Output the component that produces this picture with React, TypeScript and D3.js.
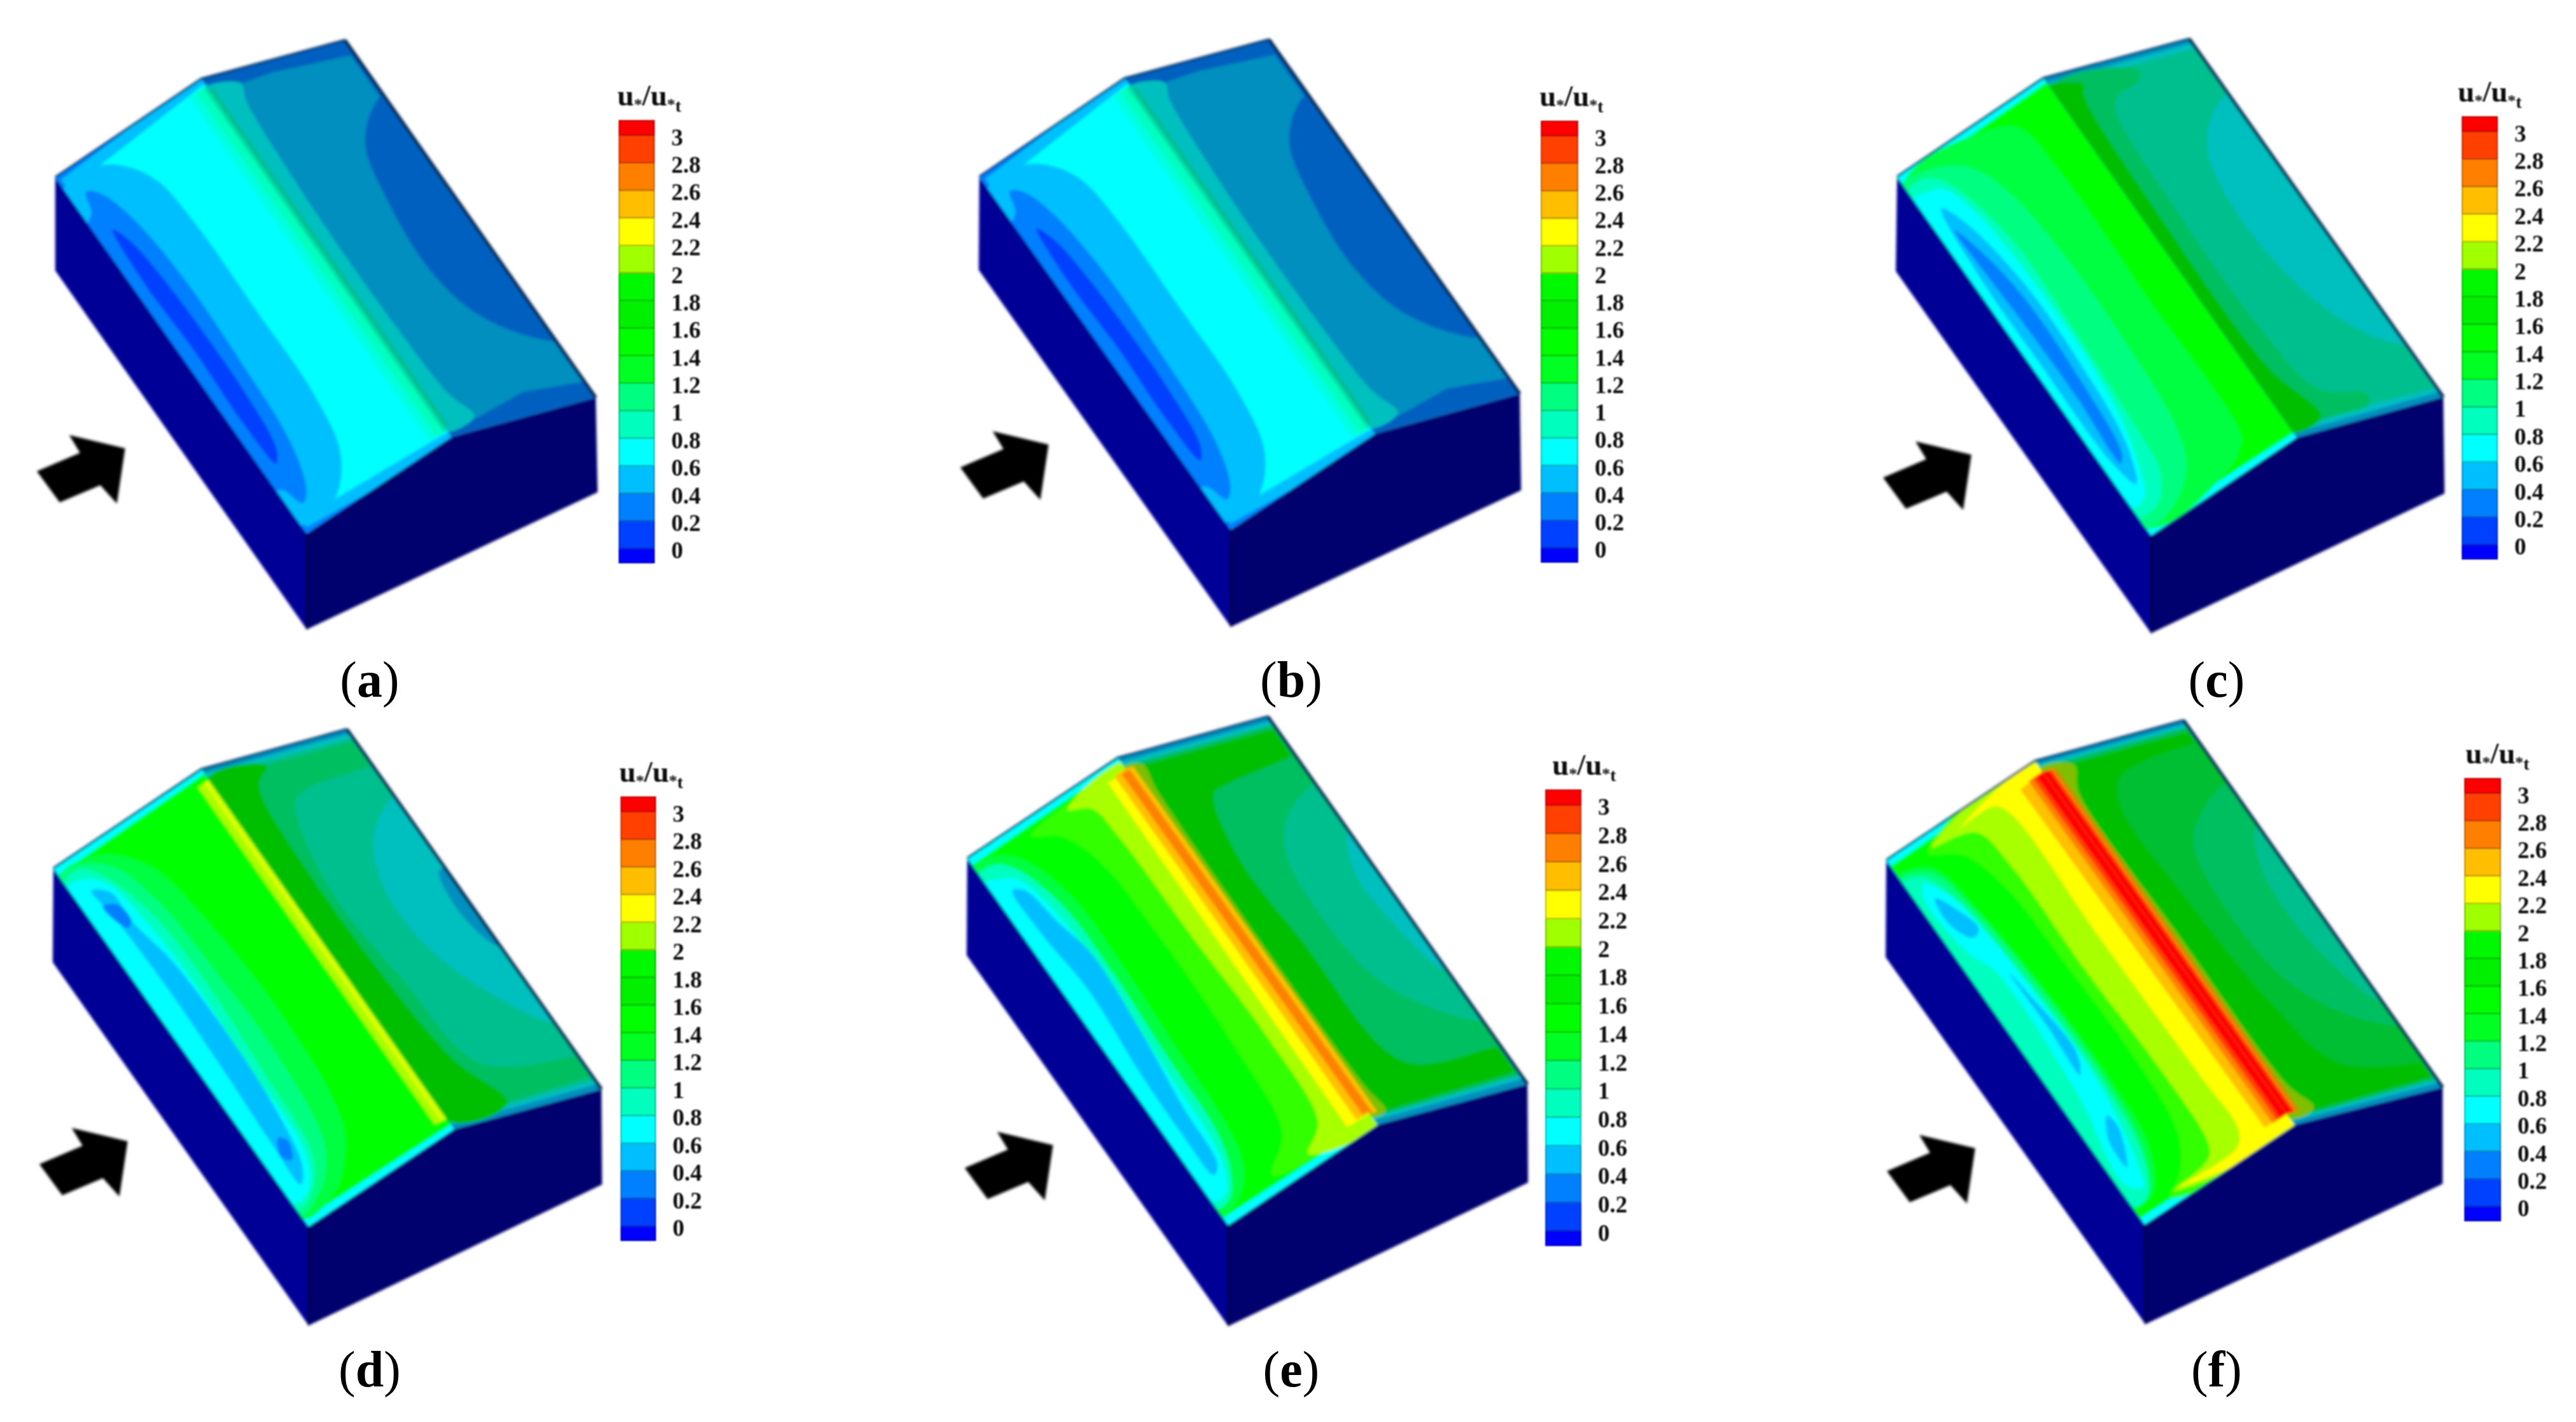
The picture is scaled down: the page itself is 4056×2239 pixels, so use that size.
import React from "react";
import * as d3 from "d3";

type Pt = [number, number];
type Layer = { b: number; p: Pt[]; line?: boolean; lit?: boolean; tone?: number; o?: number };

// legend: band colours from lowest (< 0) to highest (> 3)
const bandColors = ["#0000ff", "#0040ff", "#0080ff", "#00bfff", "#00ffff", "#00ffbf", "#00ff80", "#00ff40", "#00ff00", "#10ff00", "#30ff00", "#a8ff00", "#ffff00", "#ffc000", "#ff8000", "#ff4000", "#ff0000"];
const legendColors = ["#0000ff", "#0040ff", "#0080ff", "#00bfff", "#00ffff", "#00ffbf", "#00ff80", "#00ff20", "#00ff00", "#00f000", "#00f800", "#a0ff00", "#ffff00", "#ffbf00", "#ff8000", "#ff4000", "#ff0000"];
const legendLevels = [0, 0.2, 0.4, 0.6, 0.8, 1, 1.2, 1.4, 1.6, 1.8, 2, 2.2, 2.4, 2.6, 2.8, 3];
const legendBreaks = [-0.105, ...legendLevels, 3.105];
const legendLabels = ["0", "0.2", "0.4", "0.6", "0.8", "1", "1.2", "1.4", "1.6", "1.8", "2", "2.2", "2.4", "2.6", "2.8", "3"];
const captions = ["a", "b", "c", "d", "e", "f"];

const FULL: Pt[] = [[-0.1, -0.1], [1.1, -0.1], [1.1, 1.1], [-0.1, 1.1]];

// contour regions on the windward roof face: [u across eave→ridge, v along back→front]
const windAB: Layer[] = [
  { b: 2, p: FULL, line: true },
  { b: 3, p: [[0.02, 0.012], [1.1, -0.01], [1.1, 1.02], [0.02, 0.988]], line: true },
  { b: 4, p: [[0, 0.035], [0.25, 0.035], [0.95, 0.015], [1.1, 0.015], [1.1, 0.99], [0.96, 0.985], [0.25, 0.97], [0, 0.97]], line: true },
  { b: 5, o: 0.45, p: [[0.88, 0.02], [1.1, 0.02], [1.1, 0.985], [0.88, 0.98]], line: true },
  { b: 5, p: [[0.93, 0.02], [1.1, 0.02], [1.1, 0.985], [0.93, 0.98]], line: true },
  { b: 5, tone: 0.88, p: [[0.98, 0.02], [1.1, 0.02], [1.1, 0.985], [0.98, 0.98]], line: true },
  { b: 3, p: [[-0.02, 0.04], [0.24, 0.035], [0.37, 0.073], [0.465, 0.14], [0.5, 0.271], [0.5, 0.514], [0.494, 0.744], [0.418, 0.895], [0.229, 0.973], [-0.02, 0.97]] },
  { b: 2, p: [[0.094, 0.067], [0.159, 0.09], [0.224, 0.174], [0.265, 0.347], [0.259, 0.577], [0.224, 0.81], [0.141, 0.918], [0.082, 0.937], [0.035, 0.889], [-0.02, 0.87], [-0.02, 0.14], [0.05, 0.115]] },
  { b: 1, p: [[0.094, 0.173], [0.141, 0.221], [0.171, 0.341], [0.182, 0.546], [0.176, 0.655], [0.141, 0.797], [0.088, 0.828], [0.065, 0.705], [0.076, 0.516], [0.065, 0.311]] },
];

const windC: Layer[] = [
  { b: 4, p: FULL, line: true },
  { b: 8, p: [[-0.1, 0.02], [1.1, 0.012], [1.1, 0.988], [-0.1, 0.98]], line: true },
  { b: 7, p: [[-0.02, 0.03], [0.629, 0.036], [0.732, 0.067], [0.774, 0.208], [0.765, 0.543], [0.75, 0.926], [0.694, 0.951], [0.592, 0.972], [-0.02, 0.975]] },
  { b: 6, p: [[-0.02, 0.03], [0.215, 0.034], [0.373, 0.078], [0.468, 0.173], [0.517, 0.356], [0.518, 0.594], [0.473, 0.83], [0.389, 0.916], [0.198, 0.973], [-0.02, 0.975]] },
  { b: 5, p: [[-0.02, 0.05], [0.103, 0.038], [0.191, 0.063], [0.268, 0.138], [0.328, 0.284], [0.318, 0.5], [0.29, 0.74], [0.253, 0.889], [0.16, 0.943], [0.045, 0.956], [-0.02, 0.95]] },
  { b: 4, p: [[-0.02, 0.07], [0.11, 0.07], [0.18, 0.085], [0.24, 0.154], [0.28, 0.3], [0.29, 0.533], [0.25, 0.73], [0.16, 0.867], [0.09, 0.921], [-0.02, 0.92]] },
  { b: 3, p: [[0.1, 0.116], [0.17, 0.18], [0.24, 0.37], [0.235, 0.6], [0.19, 0.79], [0.1, 0.884], [0.056, 0.815], [0.048, 0.535], [0.052, 0.307]] },
  { b: 2, p: [[0.089, 0.174], [0.14, 0.242], [0.19, 0.38], [0.185, 0.6], [0.135, 0.807], [0.095, 0.826], [0.108, 0.65], [0.106, 0.471], [0.093, 0.299]] },
];

const windD: Layer[] = [
  { b: 4, p: FULL, line: true },
  { b: 8, p: [[-0.1, 0.02], [1.1, 0.012], [1.1, 0.988], [-0.1, 0.98]], line: true },
  { b: 11, p: [[0.925, 0.03], [1.1, 0.03], [1.1, 0.972], [0.925, 0.968]], line: true },
  { b: 12, o: 0.6, p: [[0.965, 0.03], [0.99, 0.03], [0.99, 0.972], [0.965, 0.968]], line: true },
  { b: 7, p: [[-0.02, 0.03], [0.261, 0.035], [0.456, 0.124], [0.526, 0.262], [0.573, 0.563], [0.504, 0.843], [0.373, 0.926], [0.236, 0.968], [-0.02, 0.975]] },
  { b: 6, p: [[-0.02, 0.03], [0.113, 0.024], [0.282, 0.076], [0.375, 0.2], [0.41, 0.419], [0.422, 0.621], [0.358, 0.852], [0.251, 0.922], [0.146, 0.953], [-0.02, 0.97]] },
  { b: 5, p: [[-0.02, 0.05], [0.119, 0.036], [0.212, 0.086], [0.305, 0.211], [0.329, 0.407], [0.3, 0.647], [0.259, 0.865], [0.175, 0.921], [0.05, 0.956], [-0.02, 0.95]] },
  { b: 4, p: [[-0.02, 0.06], [0.084, 0.056], [0.195, 0.096], [0.253, 0.227], [0.271, 0.41], [0.248, 0.633], [0.242, 0.83], [0.169, 0.909], [0.079, 0.939], [-0.02, 0.93]] },
  { b: 3, p: [[0.101, 0.091], [0.183, 0.118], [0.189, 0.204], [0.241, 0.323], [0.259, 0.507], [0.236, 0.729], [0.169, 0.88], [0.102, 0.911], [0.102, 0.792], [0.119, 0.617], [0.131, 0.372], [0.119, 0.17]] },
  { b: 2, p: [[0.101, 0.135], [0.177, 0.151], [0.186, 0.198], [0.145, 0.207]] },
  { b: 2, p: [[0.149, 0.794], [0.187, 0.81], [0.145, 0.853], [0.102, 0.836]] },
];

const windE: Layer[] = [
  { b: 4, p: FULL, line: true },
  { b: 8, p: [[-0.1, 0.02], [1.1, 0.012], [1.1, 0.988], [-0.1, 0.98]], line: true },
  { b: 10, p: [[0.359, 0.038], [0.494, 0.077], [0.586, 0.17], [0.614, 0.372], [0.603, 0.67], [0.541, 0.896], [0.361, 0.963], [0.95, 0.985], [1.1, 0.985], [1.1, 0.02], [0.95, 0.02]] },
  { b: 11, p: [[0.606, 0.035], [0.72, 0.063], [0.751, 0.147], [0.763, 0.432], [0.781, 0.699], [0.738, 0.921], [0.592, 0.968], [1.1, 0.985], [1.1, 0.03]] },
  { b: 12, p: [[0.875, 0.035], [1.1, 0.035], [1.1, 0.97], [0.855, 0.967]], line: true },
  { b: 13, p: [[0.925, 0.03], [1.1, 0.03], [1.1, 0.97], [0.92, 0.965]], line: true },
  { b: 14, p: [[0.965, 0.035], [1.1, 0.035], [1.1, 0.972], [0.965, 0.962]], line: true },
  { b: 7, p: [[-0.02, 0.03], [0.14, 0.033], [0.248, 0.073], [0.346, 0.192], [0.357, 0.389], [0.335, 0.606], [0.312, 0.823], [0.255, 0.914], [0.132, 0.963], [-0.02, 0.97]] },
  { b: 5, p: [[-0.02, 0.05], [0.094, 0.045], [0.185, 0.08], [0.277, 0.202], [0.289, 0.399], [0.266, 0.617], [0.249, 0.816], [0.183, 0.905], [0.083, 0.955], [-0.02, 0.95]] },
  { b: 4, p: [[-0.02, 0.07], [0.074, 0.078], [0.16, 0.102], [0.231, 0.228], [0.237, 0.414], [0.215, 0.632], [0.203, 0.813], [0.158, 0.898], [0.083, 0.94], [-0.02, 0.93]] },
  { b: 3, p: [[0.1, 0.115], [0.157, 0.132], [0.203, 0.23], [0.254, 0.332], [0.226, 0.538], [0.175, 0.727], [0.146, 0.875], [0.095, 0.89], [0.083, 0.78], [0.089, 0.617], [0.123, 0.393], [0.091, 0.229]] },
];

const windF: Layer[] = [
  { b: 4, p: FULL, line: true },
  { b: 8, p: [[-0.1, 0.018], [1.1, 0.01], [1.1, 0.99], [-0.1, 0.982]], line: true },
  { b: 10, p: [[0.211, 0.038], [0.367, 0.088], [0.455, 0.2], [0.48, 0.427], [0.49, 0.673], [0.442, 0.871], [0.324, 0.947], [0.2, 0.981], [1.1, 0.985], [1.1, 0.015]] },
  { b: 11, p: [[0.244, 0.033], [0.5, 0.061], [0.55, 0.167], [0.55, 0.457], [0.57, 0.738], [0.55, 0.925], [0.5, 0.956], [0.24, 0.973], [1.1, 0.985], [1.1, 0.02]] },
  { b: 12, p: [[0.438, 0.033], [0.67, 0.035], [0.72, 0.074], [0.72, 0.414], [0.73, 0.785], [0.73, 0.939], [0.665, 0.971], [0.269, 0.971], [1.1, 0.985], [1.1, 0.025]] },
  { b: 13, p: [[0.84, 0.035], [1.1, 0.03], [1.1, 0.97], [0.855, 0.968]], line: true },
  { b: 14, p: [[0.905, 0.03], [1.1, 0.03], [1.1, 0.97], [0.905, 0.97]], line: true },
  { b: 15, p: [[0.935, 0.03], [1.1, 0.03], [1.1, 0.97], [0.935, 0.97]], line: true },
  { b: 16, p: [[0.958, 0.03], [1.1, 0.03], [1.1, 0.97], [0.958, 0.97]], line: true },
  { b: 7, p: [[-0.02, 0.05], [0.109, 0.052], [0.199, 0.082], [0.26, 0.22], [0.3, 0.42], [0.31, 0.68], [0.27, 0.86], [0.133, 0.953], [-0.02, 0.95]] },
  { b: 6, p: [[-0.02, 0.055], [0.09, 0.06], [0.18, 0.09], [0.24, 0.2], [0.285, 0.42], [0.29, 0.68], [0.235, 0.86], [0.11, 0.95], [-0.02, 0.95]] },
  { b: 5, p: [[-0.02, 0.07], [0.106, 0.076], [0.194, 0.158], [0.25, 0.374], [0.27, 0.645], [0.215, 0.864], [0.095, 0.953], [-0.02, 0.945]] },
  { b: 4, p: [[0.092, 0.092], [0.171, 0.142], [0.224, 0.274], [0.25, 0.473], [0.25, 0.667], [0.17, 0.865], [0.112, 0.928], [0.037, 0.898], [0.116, 0.675], [0.137, 0.338], [0.079, 0.284], [0.043, 0.127]] },
  { b: 3, p: [[0.098, 0.132], [0.159, 0.178], [0.2, 0.243], [0.145, 0.253], [0.078, 0.195]] },
  { b: 3, p: [[0.195, 0.364], [0.219, 0.439], [0.246, 0.593], [0.188, 0.641], [0.196, 0.511]] },
  { b: 3, p: [[0.178, 0.75], [0.195, 0.784], [0.103, 0.872], [0.106, 0.799]] },
];

// contour regions on the leeward roof face: [w across ridge→eave, v along back→front]
const leeAB: Layer[] = [
  { b: 2, p: FULL, line: true },
  { b: 3, p: [[-0.1, 0.045], [0.45, 0.03], [0.97, 0.04], [0.985, 0.955], [0.6, 0.94], [0.22, 0.972], [-0.1, 0.975]], line: true },
  { b: 4, p: [[-0.1, 0.035], [0.212, 0.035], [0.172, 0.08], [0.13, 0.3], [0.119, 0.46], [0.125, 0.7], [0.157, 0.895], [0.217, 0.966], [-0.1, 0.975]] },
  { b: 5, p: [[-0.1, 0.03], [0.03, 0.03], [0.03, 0.97], [-0.1, 0.97]], line: true },
  { b: 2, p: [[0.954, 0.16], [0.804, 0.204], [0.675, 0.27], [0.6, 0.382], [0.551, 0.577], [0.62, 0.705], [0.755, 0.779], [0.97, 0.838], [1.02, 0.84], [1.02, 0.15]] },
];

const leeC: Layer[] = [
  { b: 3, p: FULL, line: true },
  { b: 4, p: [[-0.1, 0.014], [0.99, 0.012], [0.99, 0.985], [-0.1, 0.988]], line: true },
  { b: 5, p: [[-0.1, 0.03], [0.3, 0.026], [0.985, 0.026], [0.985, 0.975], [0.55, 0.97], [0.2, 0.978], [-0.1, 0.98]], line: true },
  { b: 6, p: [[0, 0.03], [0.583, 0.041], [0.54, 0.066], [0.355, 0.091], [0.286, 0.123], [0.231, 0.394], [0.235, 0.722], [0.318, 0.899], [0.58, 0.943], [0.547, 0.969], [0.217, 0.972], [0, 0.975]] },
  { b: 8, p: [[-0.1, 0.03], [0.209, 0.04], [0.166, 0.065], [0.108, 0.42], [0.12, 0.818], [0.224, 0.968], [-0.1, 0.975]] },
  { b: 4, p: [[0.948, 0.161], [0.763, 0.215], [0.633, 0.29], [0.566, 0.471], [0.641, 0.667], [0.781, 0.782], [0.956, 0.846], [1.02, 0.85], [1.02, 0.155]] },
];

const leeD: Layer[] = [
  { b: 3, p: FULL, line: true },
  { b: 4, p: [[-0.1, 0.012], [0.99, 0.012], [0.99, 0.985], [-0.1, 0.988]], line: true },
  { b: 5, p: [[-0.1, 0.022], [0.985, 0.022], [0.985, 0.975], [-0.1, 0.98]], line: true },
  { b: 6, p: [[-0.1, 0.032], [0.985, 0.032], [0.985, 0.965], [-0.1, 0.975]], line: true },
  { b: 5, p: [[0.954, 0.102], [0.51, 0.116], [0.404, 0.139], [0.259, 0.351], [0.309, 0.624], [0.416, 0.863], [0.97, 0.906], [1.02, 0.906], [1.02, 0.1]] },
  { b: 4, p: [[0.949, 0.195], [0.71, 0.272], [0.581, 0.377], [0.569, 0.534], [0.711, 0.679], [0.976, 0.812], [1.02, 0.815], [1.02, 0.19]] },
  { b: 3, p: [[0.953, 0.389], [0.904, 0.492], [0.979, 0.6], [1.02, 0.6], [1.02, 0.39]] },
  { b: 8, p: [[-0.02, 0.03], [0.391, 0.034], [0.268, 0.075], [0.2, 0.295], [0.269, 0.827], [0.41, 0.972], [-0.02, 0.975]] },
];

const leeE: Layer[] = [
  { b: 3, p: FULL, line: true },
  { b: 4, p: [[-0.1, 0.012], [0.99, 0.012], [0.99, 0.985], [-0.1, 0.988]], line: true },
  { b: 6, p: [[-0.1, 0.022], [0.985, 0.022], [0.985, 0.975], [-0.1, 0.98]], line: true },
  { b: 8, p: [[-0.1, 0.032], [0.985, 0.032], [0.985, 0.965], [-0.1, 0.975]], line: true },
  { b: 6, p: [[0.94, 0.108], [0.494, 0.13], [0.394, 0.143], [0.282, 0.296], [0.305, 0.531], [0.4, 0.872], [0.946, 0.895], [1.02, 0.9], [1.02, 0.1]] },
  { b: 5, p: [[0.937, 0.19], [0.7, 0.246], [0.559, 0.327], [0.511, 0.487], [0.569, 0.658], [0.732, 0.754], [0.967, 0.824], [1.02, 0.83], [1.02, 0.185]] },
  { b: 4, p: [[0.984, 0.317], [0.871, 0.411], [0.887, 0.548], [0.98, 0.685], [1.02, 0.685], [1.02, 0.317]] },
  { b: 11, p: [[-0.02, 0.03], [0.11, 0.03], [0.09, 0.1], [0.07, 0.5], [0.08, 0.9], [0.1, 0.973], [-0.02, 0.975]] },
  { b: 13, p: [[-0.1, 0.03], [0.05, 0.03], [0.05, 0.97], [-0.1, 0.97]], line: true, lit: true },
  { b: 14, p: [[-0.1, 0.035], [0.02, 0.035], [0.02, 0.97], [-0.1, 0.97]], line: true, lit: true },
];

const leeF: Layer[] = [
  { b: 3, p: FULL, line: true },
  { b: 4, p: [[-0.1, 0.01], [0.99, 0.01], [0.99, 0.987], [-0.1, 0.99]], line: true },
  { b: 6, p: [[-0.1, 0.018], [0.985, 0.018], [0.985, 0.978], [-0.1, 0.985]], line: true },
  { b: 8, p: [[-0.1, 0.028], [0.985, 0.028], [0.985, 0.97], [-0.1, 0.98]], line: true },
  { b: 7, p: [[0.95, 0.06], [0.42, 0.09], [0.3, 0.16], [0.3, 0.4], [0.36, 0.7], [0.5, 0.88], [0.97, 0.93], [1.02, 0.93], [1.02, 0.06]] },
  { b: 6, p: [[0.931, 0.178], [0.657, 0.246], [0.546, 0.302], [0.484, 0.462], [0.526, 0.642], [0.706, 0.76], [0.972, 0.829], [1.02, 0.83], [1.02, 0.175]] },
  { b: 5, p: [[0.977, 0.291], [0.851, 0.385], [0.822, 0.548], [0.9, 0.693], [0.98, 0.76], [1.02, 0.76], [1.02, 0.29]] },
  { b: 11, p: [[-0.02, 0.025], [0.205, 0.034], [0.12, 0.1], [0.11, 0.5], [0.12, 0.9], [0.18, 0.971], [-0.02, 0.98]] },
  { b: 13, p: [[-0.1, 0.03], [0.09, 0.03], [0.09, 0.97], [-0.1, 0.97]], line: true },
  { b: 14, p: [[-0.1, 0.03], [0.07, 0.03], [0.07, 0.97], [-0.1, 0.97]], line: true, lit: true },
  { b: 15, p: [[-0.1, 0.03], [0.055, 0.03], [0.055, 0.97], [-0.1, 0.97]], line: true, lit: true },
  { b: 16, p: [[-0.1, 0.03], [0.04, 0.03], [0.04, 0.97], [-0.1, 0.97]], line: true, lit: true },
];

// page placement of each panel (building corners, arrow tip, legend box, title shift, caption)
const layout = [
  { wind: windAB, lee: leeAB, A: [87, 279], R: [317, 124], B: [543, 63], C: [938, 626], Rf: [711, 688], F: [483, 840], Fb: [483, 991], Ab: [87, 426], Cb: [941, 775], tip: [197, 706], lg: [975, 1030, 190, 886], tx: 0, cap: [582, 1097] },
  { wind: windAB, lee: leeAB, A: [1542, 278], R: [1771, 123], B: [1998, 62], C: [2393, 620], Rf: [2165, 683], F: [1938, 834], Fb: [1938, 987], Ab: [1541, 425], Cb: [2395, 772], tip: [1651, 700], lg: [2427, 2484, 191, 885], tx: 0, cap: [2033, 1097] },
  { wind: windC, lee: leeC, A: [2987, 278], R: [3217, 123], B: [3447, 61], C: [3847, 625], Rf: [3616, 689], F: [3387, 843], Fb: [3387, 997], Ab: [2985, 427], Cb: [3849, 777], tip: [3104, 716], lg: [3877, 3932, 184, 880], tx: -4, cap: [3490, 1097] },
  { wind: windD, lee: leeD, A: [84, 1367], R: [317, 1211], B: [546, 1148], C: [947, 1715], Rf: [715, 1778], F: [486, 1931], Fb: [486, 2087], Ab: [83, 1515], Cb: [948, 1865], tip: [201, 1797], lg: [978, 1032, 1255, 1953], tx: 0, cap: [582, 2183] },
  { wind: windE, lee: leeE, A: [1523, 1351], R: [1760, 1193], B: [1996, 1128], C: [2405, 1707], Rf: [2169, 1771], F: [1934, 1929], Fb: [1934, 2088], Ab: [1522, 1504], Cb: [2406, 1862], tip: [1658, 1803], lg: [2434, 2489, 1244, 1961], tx: 13, cap: [2033, 2183] },
  { wind: windF, lee: leeF, A: [2970, 1354], R: [3204, 1198], B: [3438, 1134], C: [3846, 1712], Rf: [3613, 1771], F: [3377, 1928], Fb: [3378, 2085], Ab: [2969, 1507], Cb: [3846, 1864], tip: [3110, 1808], lg: [3881, 3937, 1226, 1922], tx: 4, cap: [3490, 2183] },
];

const arrowShape: Pt[] = [[-139, 36], [-71, 7], [-88, -21], [0, 0], [-13, 87], [-39, 58], [-103, 85]];

const SHADE = 0.75;
const blobCurve = d3.line<Pt>().curve(d3.curveCatmullRomClosed.alpha(0.5));
const straight = d3.line<Pt>().curve(d3.curveLinearClosed);

function mapper(a: number[], b: number[], c: number[], d: number[]) {
  // a→b is the u edge at v = 0, c→d the u edge at v = 1
  const top = d3.interpolate(a, b);
  const bot = d3.interpolate(c, d);
  return (u: number, v: number): Pt => {
    const p = top(u), q = bot(u);
    return [p[0] + (q[0] - p[0]) * v, p[1] + (q[1] - p[1]) * v];
  };
}

function tone(color: string, k: number) {
  const c = d3.rgb(color);
  return d3.rgb(c.r * k, c.g * k, c.b * k).formatHex();
}

function Face({ id, corners, map, layers, shade }: { id: string; corners: number[][]; map: (u: number, v: number) => Pt; layers: Layer[]; shade: number }) {
  return (
    <g clipPath={`url(#${id})`}>
      <defs>
        <clipPath id={id}>
          <polygon points={corners.map((c) => c.join(",")).join(" ")} />
        </clipPath>
      </defs>
      {layers.map((l, i) => {
        const pts = l.p.map(([u, v]) => map(u, v));
        const k = (l.lit ? 1 : shade) * (l.tone ?? 1);
        return <path key={i} d={(l.line ? straight : blobCurve)(pts) ?? ""} fill={tone(bandColors[l.b], k)} fillOpacity={l.o ?? 1} />;
      })}
    </g>
  );
}

function Panel({ cfg, index }: { cfg: (typeof layout)[number]; index: number }) {
  const { A, R, B, C, Rf, F, Fb, Ab, Cb } = cfg;
  const windMap = mapper(A, R, F, Rf);
  const leeMap = mapper(R, B, Rf, C);
  const [lx0, lx1, ly0, ly1] = cfg.lg;
  const yScale = d3.scaleLinear().domain([legendBreaks[0], legendBreaks[legendBreaks.length - 1]]).range([ly1, ly0]);
  const poly = (pts: number[][]) => pts.map((c) => c.join(",")).join(" ");
  const titleX = lx0 - 3 + cfg.tx;
  const titleY = ly0 - 24;
  return (
    <g>
      <g filter="url(#soft)">
        <polygon points={poly([A, F, Fb, Ab])} fill="#000096" />
        <polygon points={poly([F, Rf, C, Cb, Fb])} fill="#00006e" />
        <Face id={`wind${index}`} corners={[A, R, Rf, F]} map={windMap} layers={cfg.wind} shade={1} />
        <Face id={`lee${index}`} corners={[R, B, C, Rf]} map={leeMap} layers={cfg.lee} shade={SHADE} />
        <line x1={F[0]} y1={F[1]} x2={Fb[0]} y2={Fb[1]} stroke="#000020" strokeWidth={2.5} />
        <polyline points={poly([A, R, B])} fill="none" stroke="#002a60" strokeWidth={3} />
        <line x1={B[0]} y1={B[1]} x2={C[0]} y2={C[1]} stroke="#00204a" strokeWidth={5} />
        <polygon points={poly(arrowShape.map(([x, y]) => [cfg.tip[0] + x, cfg.tip[1] + y]))} fill="#000" />
      </g>
      <g filter="url(#softer)">
        {legendColors.map((c, i) => (
          <rect key={i} x={lx0} width={lx1 - lx0} y={yScale(legendBreaks[i + 1])} height={yScale(legendBreaks[i]) - yScale(legendBreaks[i + 1])} fill={c} stroke={tone(c, 0.72)} strokeWidth={2} />
        ))}
        <text x={titleX} y={titleY} fontFamily="'Liberation Serif', serif" fontWeight="bold" fill="#111" fontSize={47}>
          u<tspan fontSize={26} dy={7}>*</tspan><tspan dy={-7}>/u</tspan><tspan fontSize={26} dy={7}>*</tspan><tspan fontSize={28} dy={3}>t</tspan>
        </text>
        {legendLevels.map((v, i) => (
          <text key={i} x={lx1 + 27} y={yScale(v) + 16} fontFamily="'Liberation Serif', serif" fontWeight="bold" fontSize={37} fill="#111">{legendLabels[i]}</text>
        ))}
      </g>
      <text x={cfg.cap[0]} y={cfg.cap[1]} textAnchor="middle" fontFamily="'Liberation Serif', serif" fontSize={80} fill="#000">
        (<tspan fontWeight="bold">{captions[index]}</tspan>)
      </text>
    </g>
  );
}

export default function App() {
  return (
    <svg width={4056} height={2239} viewBox="0 0 4056 2239" style={{ position: "absolute", left: 0, top: 0, display: "block", background: "#fff" }}>
      <defs>
        <filter id="soft" x="-5%" y="-5%" width="110%" height="110%"><feGaussianBlur stdDeviation={2.2} /></filter>
        <filter id="softer" x="-5%" y="-5%" width="110%" height="110%"><feGaussianBlur stdDeviation={1.1} /></filter>
      </defs>
      {layout.map((cfg, i) => <Panel key={i} cfg={cfg} index={i} />)}
    </svg>
  );
}
